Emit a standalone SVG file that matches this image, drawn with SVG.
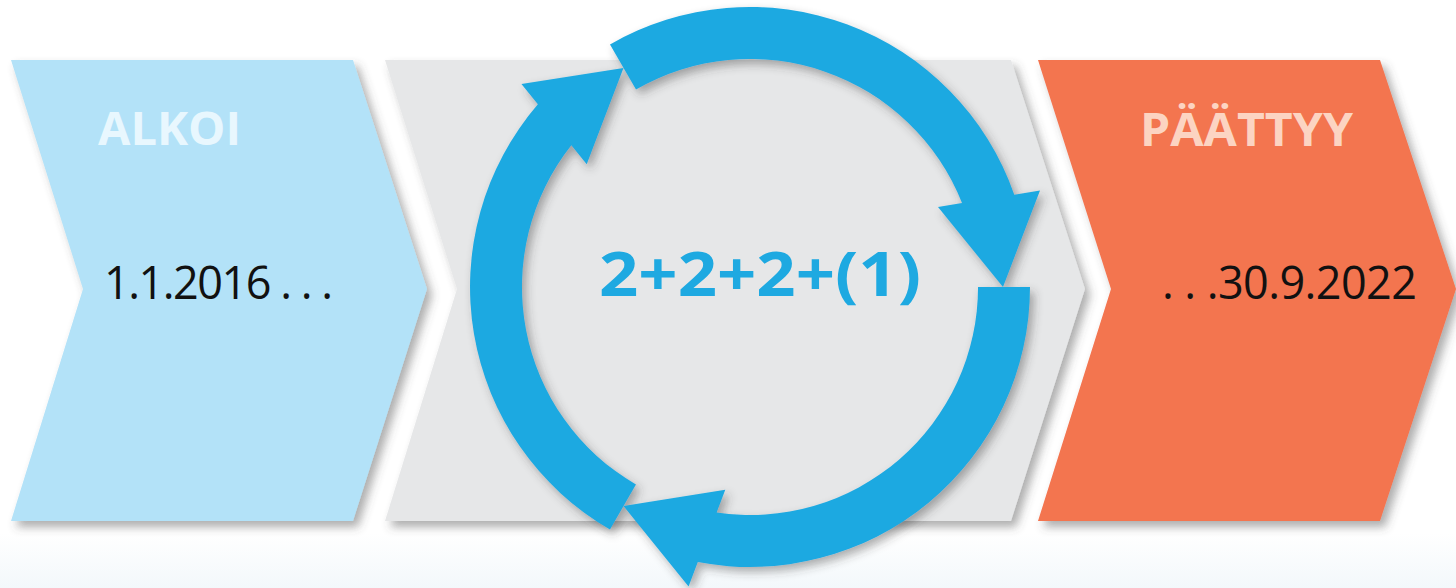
<svg xmlns="http://www.w3.org/2000/svg" xmlns:xlink="http://www.w3.org/1999/xlink" width="1456" height="588" viewBox="0 0 1456 588">
  <defs>
    <linearGradient id="bg" x1="0" y1="0" x2="0" y2="1">
      <stop offset="0" stop-color="#ffffff"/>
      <stop offset="1" stop-color="#f3f8fb"/>
    </linearGradient>
    <filter id="shadow" x="-10%" y="-10%" width="125%" height="125%">
      <feDropShadow dx="5" dy="6" stdDeviation="5" flood-color="#4a4a4a" flood-opacity="0.45"/>
    </filter>
    <filter id="ashadow" x="-10%" y="-10%" width="125%" height="125%">
      <feDropShadow dx="4" dy="5" stdDeviation="5" flood-color="#3a3a3a" flood-opacity="0.4"/>
    </filter>
    <path id="arrow" d="M 610,44.5 A 280 280 0 0 1 1014.3,194.65 L 1040,190.5 L 1003,287 L 938,207 L 962,203.1 A 228 228 0 0 0 636,89.5 Z"/>
    <style>
      .title { font-family: "Open Sans", "Liberation Sans", sans-serif; font-weight: 700; }
      .date { font-family: "Open Sans", "Liberation Sans", sans-serif; font-weight: 400; font-size: 45px; fill: #111111; }
      .arrow { fill: #1ea9e1; }
    </style>
  </defs>

  <rect x="0" y="0" width="1456" height="533" fill="#ffffff"/>
  <rect x="0" y="533" width="1456" height="55" fill="url(#bg)"/>

  <g id="start">
    <polygon points="11,60 353,60 427,289 353,521 11,521 83,289" fill="#b3e2f8" filter="url(#shadow)"/>
    <text class="title" x="98" y="145" font-size="46" fill="#e8f7fe" textLength="143" lengthAdjust="spacingAndGlyphs">ALKOI</text>
    <text class="date" x="104" y="299" textLength="229" lengthAdjust="spacing">1.1.2016 . . .</text>
  </g>

  <g id="period">
    <polygon points="385,60 1011,60 1085,289 1011,521 385,521 457,289" fill="#e6e7e8" filter="url(#shadow)"/>
  </g>

  <g id="end">
    <polygon points="1038,60 1380,60 1456,289 1380,521 1038,521 1111,289" fill="#f3744f" filter="url(#shadow)"/>
    <text class="title" x="1140" y="146" font-size="47" fill="#fcd4c2" textLength="213" lengthAdjust="spacingAndGlyphs">PÄÄTTYY</text>
    <text class="date" x="1162" y="299" textLength="255" lengthAdjust="spacing">. . .30.9.2022</text>
  </g>

  <g id="cycle-arrows" filter="url(#ashadow)">
    <use xlink:href="#arrow" class="arrow"/>
    <use xlink:href="#arrow" class="arrow" transform="rotate(120 750 287)"/>
    <use xlink:href="#arrow" class="arrow" transform="rotate(240 750 287)"/>
  </g>

  <g id="cycle-label">
    <text class="title" x="599" y="296" font-size="60" fill="#1ea9e1" textLength="322" lengthAdjust="spacingAndGlyphs">2+2+2+(1)</text>
  </g>
</svg>
